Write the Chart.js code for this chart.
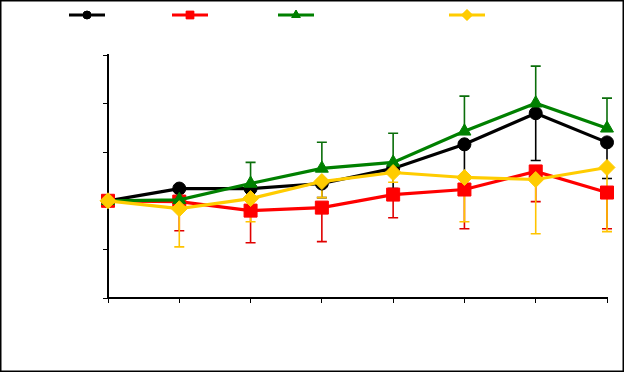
<!DOCTYPE html>
<html>
<head>
<meta charset="utf-8">
<script src="https://cdn.jsdelivr.net/npm/chart.js@4/dist/chart.umd.min.js"></script>
<style>
  html, body { margin: 0; padding: 0; background: #fff; }
  #wrap { width: 625px; height: 373px; position: relative; }
</style>
</head>
<body>
<div id="wrap"><canvas id="c" width="625" height="373"></canvas></div>
<script>
// ---- data ----
const categories = ['1', '2', '3', '4', '5', '6', '7', '8'];
const seriesNames = ['Series A', 'Series B', 'Series C', 'Series D'];

const blackValues  = [100, 112.6, 112.6, 117.8, 133.3, 158.1, 190.1, 160.1];
const redValues    = [100, 99.2, 89.9, 93.0, 106.4, 111.6, 130.2, 108.5];
const greenValues  = [100, 101.0, 117.8, 133.3, 139.5, 171.5, 200.4, 174.6];
const yellowValues = [100, 91.9, 102.3, 119.8, 129.1, 124.0, 121.9, 134.3];

// one-sided error bars (black/red/yellow downward, green upward)
const blackErr  = [0, 0, 2, 14.5, 20.7, 34, 48.6, 37.2];
const redErr    = [0, 30, 33, 35, 23.8, 40.3, 31, 37.2];
const greenErr  = [0, 0, 21.7, 26.9, 30, 36.2, 38.2, 31];
const yellowErr = [0, 39.3, 23.8, 16.5, 10, 45.5, 55.8, 66];

const yTicks = { min: 0, max: 250, step: 50 };

// ---- styles ----
const styles = [
  { color: '#000000', errColor: '#000000', pointStyle: 'circle',   radius: 6.5, legendRadius: 4,   dir: -1, order: 3 },
  { color: '#ff0000', errColor: '#e00000', pointStyle: 'rect',     radius: 9.2, legendRadius: 5.5, dir: -1, order: 2 },
  { color: '#008000', errColor: '#0a6e0a', pointStyle: 'triangle', radius: 7.5, legendRadius: 5,   dir: 1,  order: 1 },
  { color: '#ffcc00', errColor: '#ffc400', pointStyle: 'rectRot',  radius: 8,   legendRadius: 5.5, dir: -1, order: 0 }
];
const valueSets = [blackValues, redValues, greenValues, yellowValues];
const errSets = [blackErr, redErr, greenErr, yellowErr];
const legendCenters = [87, 190, 296, 467];

const errorBarPlugin = {
  id: 'errorBars',
  beforeDatasetsDraw(chart) {
    const ctx = chart.ctx;
    const yScale = chart.scales.y;
    ctx.save();
    chart.data.datasets.forEach((ds, i) => {
      const meta = chart.getDatasetMeta(i);
      const st = styles[i];
      ctx.strokeStyle = st.errColor;
      ctx.lineWidth = 1.6;
      meta.data.forEach((pt, j) => {
        const e = errSets[i][j];
        if (!e) return;
        const x = pt.x;
        const y0 = yScale.getPixelForValue(valueSets[i][j]);
        const y1 = yScale.getPixelForValue(valueSets[i][j] + st.dir * e);
        ctx.beginPath();
        ctx.moveTo(x, y0);
        ctx.lineTo(x, y1);
        ctx.moveTo(x - 5, y1);
        ctx.lineTo(x + 5, y1);
        ctx.stroke();
      });
    });
    ctx.restore();
  }
};

const legendFramePlugin = {
  id: 'legendFrame',
  afterDraw(chart) {
    const ctx = chart.ctx;
    ctx.save();
    // outer frame
    ctx.strokeStyle = '#000';
    ctx.lineWidth = 1.5;
    ctx.strokeRect(0.75, 0.75, 622.5, 370.5);
    // legend samples
    const ly = 15;
    styles.forEach((st, i) => {
      const cx = legendCenters[i];
      ctx.strokeStyle = st.color;
      ctx.lineWidth = 3;
      ctx.beginPath();
      ctx.moveTo(cx - 18, ly);
      ctx.lineTo(cx + 18, ly);
      ctx.stroke();
      ctx.fillStyle = st.color;
      ctx.strokeStyle = st.color;
      ctx.lineWidth = 1;
      Chart.helpers.drawPoint(ctx, { pointStyle: st.pointStyle, rotation: 0, radius: st.legendRadius, borderWidth: 1 }, cx, ly);
      ctx.fill();
    });
    ctx.restore();
  }
};

const datasets = valueSets.map((vals, i) => ({
  label: seriesNames[i],
  data: vals,
  borderColor: styles[i].color,
  backgroundColor: styles[i].color,
  pointBackgroundColor: styles[i].color,
  pointBorderColor: styles[i].color,
  pointStyle: styles[i].pointStyle,
  pointRadius: styles[i].radius,
  pointHoverRadius: styles[i].radius,
  pointBorderWidth: 1,
  borderWidth: 3.2,
  tension: 0,
  fill: false,
  order: styles[i].order,
  clip: false
}));

new Chart(document.getElementById('c'), {
  type: 'line',
  data: { labels: categories, datasets },
  options: {
    responsive: false,
    animation: false,
    devicePixelRatio: 1,
    events: [],
    layout: { padding: { left: 103, right: 18, top: 55, bottom: 70 } },
    plugins: { legend: { display: false }, tooltip: { enabled: false }, title: { display: false } },
    scales: {
      x: {
        type: 'category',
        offset: false,
        grid: { display: true, drawOnChartArea: false, drawTicks: true, tickLength: 5, color: '#000', lineWidth: 1 },
        border: { display: true, color: '#000', width: 2 },
        ticks: { display: false }
      },
      y: {
        min: yTicks.min,
        max: yTicks.max,
        grid: { display: true, drawOnChartArea: false, drawTicks: true, tickLength: 5, color: '#000', lineWidth: 1 },
        border: { display: true, color: '#000', width: 2 },
        ticks: { display: false, stepSize: yTicks.step }
      }
    }
  },
  plugins: [errorBarPlugin, legendFramePlugin]
});
</script>
</body>
</html>
